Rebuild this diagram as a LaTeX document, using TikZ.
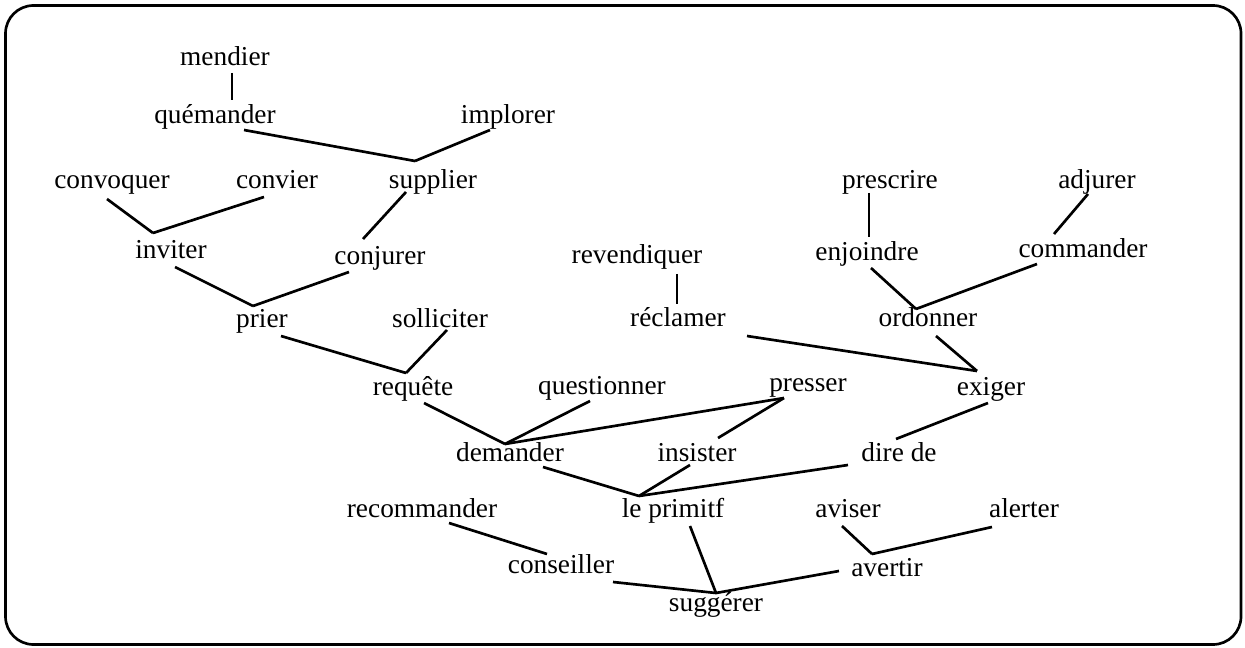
\documentclass[tikz,border=0pt]{standalone}
\usepackage{fontspec}
\setmainfont{Liberation Serif}
\begin{document}
\begin{tikzpicture}[x=0.75pt,y=-0.75pt,
  w/.style={font=\fontsize{20.5}{24}\selectfont, anchor=base, inner sep=0pt},
  link/.style={line width=2pt},
  frame/.style={line width=2pt, rounded corners=21pt}]
\useasboundingbox (0,0) rectangle (1245,648);
\draw[frame] (5.5,5.5) rectangle (1241,644.5);
% words
\node[w] (mendier) at (225,66) {mendier};
\node[w] (quem) at (215,124) {quémander};
\node[w] (impl) at (508,124) {implorer};
\node[w] (convoq) at (112,189) {convoquer};
\node[w] (convier) at (277,189) {convier};
\node[w] (supp) at (433,189) {supplier};
\node[w] (prescr) at (890,189) {prescrire};
\node[w] (adjur) at (1097,189) {adjurer};
\node[w] (inviter) at (171,259) {inviter};
\node[w] (conjur) at (380,265) {conjurer};
\node[w] (revend) at (637,264) {revendiquer};
\node[w] (enjoin) at (867,261) {enjoindre};
\node[w] (command) at (1083,258) {commander};
\node[w] (prier) at (262,328) {prier};
\node[w] (sollic) at (440,328) {solliciter};
\node[w] (reclam) at (678,327) {réclamer};
\node[w] (ordon) at (928,327) {ordonner};
\node[w] (requete) at (413,395) {requête};
\node[w] (question) at (602,394) {questionner};
\node[w] (presser) at (808,392) {presser};
\node[w] (exiger) at (991,395) {exiger};
\node[w] (demander) at (510,461) {demander};
\node[w] (insister) at (697,461) {insister};
\node[w] (dire) at (899,461) {dire de};
\node[w] (recomm) at (422,517) {recommander};
\node[w] (primitf) at (673,517) {le primitf};
\node[w] (aviser) at (848,517) {aviser};
\node[w] (alerter) at (1024,517) {alerter};
\node[w] (conseil) at (561,573) {conseiller};
\node[w] (avertir) at (887,576) {avertir};
\node[w] (sugg) at (716,611) {suggérer};
% connectors
\draw[link] ([shift={(7,7)}]mendier.base) -- ([shift={(17,-24)}]quem.base);
\draw[link] ([shift={(29,6)}]quem.base) -- ([shift={(-18,-28)}]supp.base);
\draw[link] ([shift={(-18,6)}]impl.base) -- ([shift={(-18,-28)}]supp.base);
\draw[link] ([shift={(-5,10)}]convoq.base) -- ([shift={(-18,-26)}]inviter.base);
\draw[link] ([shift={(-13,8)}]convier.base) -- ([shift={(-18,-26)}]inviter.base);
\draw[link] ([shift={(-27,3)}]supp.base) -- ([shift={(-17,-26)}]conjur.base);
\draw[link] ([shift={(4,8)}]inviter.base) -- ([shift={(-9,-22)}]prier.base);
\draw[link] ([shift={(-31,7)}]conjur.base) -- ([shift={(-9,-22)}]prier.base);
\draw[link] ([shift={(19,8)}]prier.base) -- ([shift={(-7,-22)}]requete.base);
\draw[link] ([shift={(7,2)}]sollic.base) -- ([shift={(-7,-22)}]requete.base);
\draw[link] ([shift={(40,10)}]revend.base) -- ([shift={(-1,-23)}]reclam.base);
\draw[link] ([shift={(-21,4)}]prescr.base) -- ([shift={(2,-24)}]enjoin.base);
\draw[link] ([shift={(-9,5)}]adjur.base) -- ([shift={(-29,-24)}]command.base);
\draw[link] ([shift={(4,7)}]enjoin.base) -- ([shift={(-12,-18)}]ordon.base);
\draw[link] ([shift={(-46,6)}]command.base) -- ([shift={(-12,-18)}]ordon.base);
\draw[link] ([shift={(69,9)}]reclam.base) -- ([shift={(-14,-24)}]exiger.base);
\draw[link] ([shift={(8,9)}]ordon.base) -- ([shift={(-14,-24)}]exiger.base);
\draw[link] ([shift={(11,8)}]requete.base) -- ([shift={(-5,-17)}]demander.base);
\draw[link] ([shift={(-12,7)}]question.base) -- ([shift={(-5,-17)}]demander.base);
\draw[link] ([shift={(-24,6)}]presser.base) -- ([shift={(-5,-17)}]demander.base);
\draw[link] ([shift={(-24,6)}]presser.base) -- ([shift={(21,-23)}]insister.base);
\draw[link] ([shift={(-3,8)}]exiger.base) -- ([shift={(-3,-22)}]dire.base);
\draw[link] ([shift={(33,6)}]demander.base) -- ([shift={(-34,-21)}]primitf.base);
\draw[link] ([shift={(-7,4)}]insister.base) -- ([shift={(-34,-21)}]primitf.base);
\draw[link] ([shift={(-51,4)}]dire.base) -- ([shift={(-34,-21)}]primitf.base);
\draw[link] ([shift={(27,6)}]recomm.base) -- ([shift={(-14,-19)}]conseil.base);
\draw[link] ([shift={(17,9)}]primitf.base) -- ([shift={(0,-18)}]sugg.base);
\draw[link] ([shift={(52,9)}]conseil.base) -- ([shift={(0,-18)}]sugg.base);
\draw[link] ([shift={(-48,-5)}]avertir.base) -- ([shift={(0,-18)}]sugg.base);
\draw[link] ([shift={(-6,9)}]aviser.base) -- ([shift={(-15,-22)}]avertir.base);
\draw[link] ([shift={(-32,10)}]alerter.base) -- ([shift={(-15,-22)}]avertir.base);
\end{tikzpicture}
\end{document}
